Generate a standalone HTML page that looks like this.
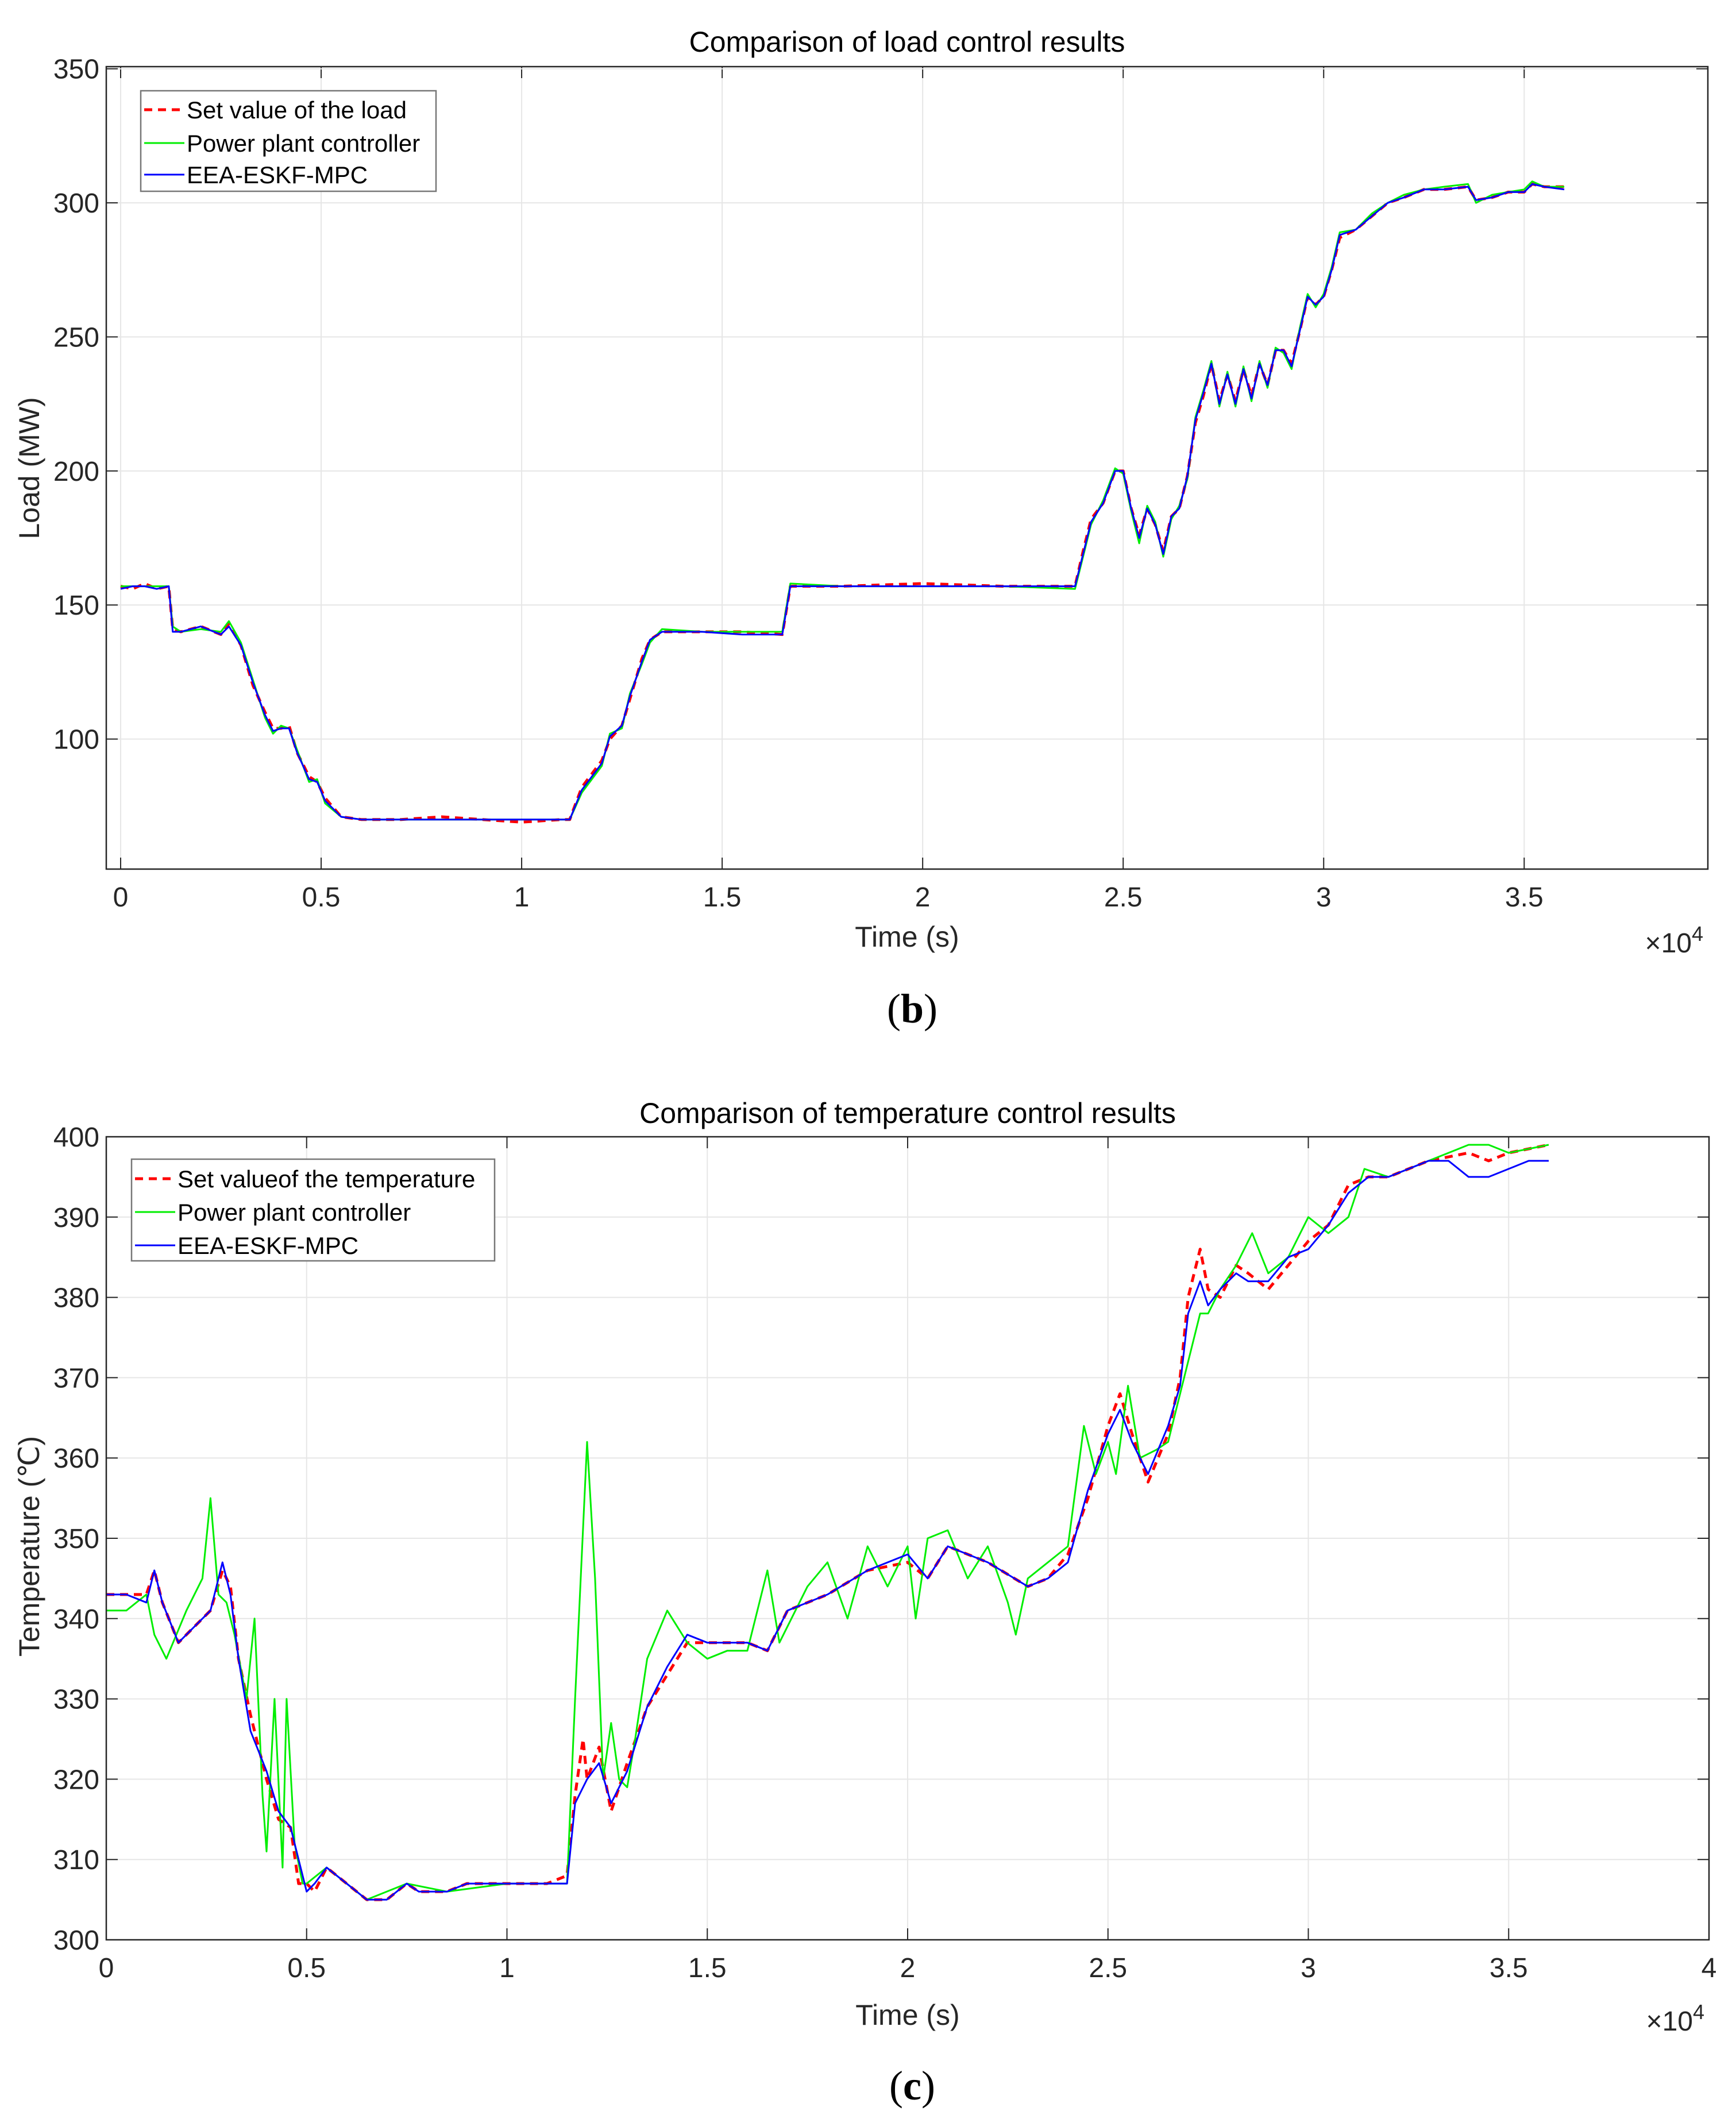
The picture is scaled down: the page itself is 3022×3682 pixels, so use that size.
<!DOCTYPE html>
<html><head><meta charset="utf-8">
<style>
html,body{margin:0;padding:0;background:#fff;}
svg{display:block;font-family:"Liberation Sans",Arial,sans-serif;}
</style></head>
<body>
<svg id="fig" width="3022" height="3682" viewBox="0 0 3022 3682" xmlns="http://www.w3.org/2000/svg">
<rect width="3022" height="3682" fill="#fff"/>
<g id="chartB"></g>
<g id="chartC"></g>
</svg>
<script>
// ---------- Load chart data (time in 1e4 s, load in MW) ----------
const loadSetT = [0,0.03,0.06,0.09,0.12,0.13,0.15,0.2,0.25,0.27,0.3,0.33,0.36,0.38,0.4,0.42,0.44,0.47,0.49,0.51,0.55,0.6,0.7,0.8,0.9,1.0,1.1,1.12,1.15,1.2,1.22,1.25,1.27,1.3,1.32,1.35,1.45,1.55,1.65,1.67,1.8,2.0,2.2,2.38,2.4,2.42,2.45,2.48,2.5,2.52,2.54,2.56,2.58,2.6,2.62,2.64,2.66,2.68,2.7,2.72,2.74,2.76,2.78,2.8,2.82,2.84,2.86,2.88,2.9,2.92,2.94,2.96,2.98,3.0,3.02,3.04,3.08,3.12,3.16,3.2,3.25,3.3,3.36,3.38,3.42,3.46,3.5,3.52,3.55,3.6];
const loadSetV = [157,156,158,156,157,141,140,142,139,143,135,120,110,104,104,105,95,86,84,78,71,70,70,71,70,69,70,70,82,92,100,105,115,130,137,140,140,140,139,157,157,158,157,157,170,182,188,200,200,186,176,186,180,170,183,186,198,218,228,240,226,236,226,238,228,240,232,245,245,240,252,265,262,265,275,287,290,295,300,302,305,305,306,301,302,304,304,307,306,306];
const loadPpcV = [157,157,157,157,157,142,140,141,140,144,136,122,108,102,105,104,96,84,85,76,71,70,70,70,70,70,70,70,80,90,102,104,117,128,136,141,140,140,140,158,157,157,157,156,168,180,189,201,199,185,173,187,181,168,182,187,197,220,230,241,224,237,224,239,226,241,231,246,244,238,253,266,261,266,276,289,290,296,300,303,305,306,307,300,303,304,305,308,306,306];
const loadMpcV = [156,157,157,156,157,140,140,142,139,142,135,121,109,103,104,104,95,85,84,77,71,70,70,70,70,70,70,70,81,91,101,105,116,129,137,140,140,139,139,157,157,157,157,157,169,181,188,200,200,186,175,186,180,169,183,186,198,219,229,240,225,236,225,238,227,240,232,245,245,239,252,265,262,265,275,288,290,295,300,302,305,305,306,301,302,304,304,307,306,305];
const loadXTicks = [0,0.5,1,1.5,2,2.5,3,3.5];
const loadXTickLabels = ["0","0.5","1","1.5","2","2.5","3","3.5"];
const loadYTicks = [100,150,200,250,300,350];
const loadYTickLabels = ["100","150","200","250","300","350"];

// ---------- Temperature chart data ----------
const tempSetT = [0,0.05,0.1,0.12,0.14,0.18,0.22,0.26,0.29,0.31,0.33,0.36,0.4,0.43,0.46,0.48,0.5,0.52,0.55,0.6,0.65,0.7,0.75,0.78,0.85,0.9,0.95,1.1,1.15,1.17,1.19,1.2,1.23,1.26,1.3,1.35,1.4,1.45,1.5,1.6,1.65,1.7,1.8,1.9,2.0,2.05,2.1,2.2,2.3,2.35,2.4,2.45,2.5,2.53,2.56,2.6,2.65,2.68,2.7,2.73,2.75,2.78,2.82,2.85,2.9,2.95,3.0,3.05,3.1,3.15,3.2,3.3,3.4,3.45,3.5,3.6];
const tempSetV = [343,343,343,346,342,337,339,341,346,344,335,328,320,315,314,307,307,306,309,307,305,305,307,306,306,307,307,307,308,318,325,320,324,316,322,329,333,337,337,337,336,341,343,346,347,345,349,347,344,345,348,355,364,368,363,357,363,370,380,386,381,380,384,383,381,384,387,389,394,395,395,397,398,397,398,399];
const tempPpcT = [0,0.05,0.1,0.12,0.15,0.2,0.24,0.26,0.28,0.3,0.32,0.35,0.37,0.39,0.4,0.42,0.44,0.45,0.47,0.49,0.5,0.55,0.65,0.75,0.85,1.0,1.15,1.17,1.2,1.22,1.24,1.26,1.28,1.3,1.32,1.35,1.4,1.45,1.5,1.55,1.6,1.65,1.68,1.75,1.8,1.85,1.9,1.95,2.0,2.02,2.05,2.1,2.15,2.2,2.25,2.27,2.3,2.4,2.44,2.47,2.5,2.52,2.55,2.58,2.62,2.65,2.7,2.73,2.75,2.78,2.82,2.86,2.9,2.95,3.0,3.05,3.1,3.14,3.2,3.3,3.4,3.45,3.5,3.6];
const tempPpcV = [341,341,343,338,335,341,345,355,343,342,338,330,340,318,311,330,309,330,312,307,307,309,305,307,306,307,307,330,362,345,320,327,320,319,325,335,341,337,335,336,336,346,337,344,347,340,349,344,349,340,350,351,345,349,342,338,345,349,364,358,362,358,369,360,361,362,372,378,378,381,384,388,383,385,390,388,390,396,395,397,399,399,398,399];
const tempMpcT = [0,0.05,0.1,0.12,0.14,0.18,0.22,0.26,0.29,0.31,0.33,0.36,0.4,0.43,0.46,0.48,0.5,0.52,0.55,0.6,0.65,0.7,0.75,0.78,0.85,0.9,0.95,1.1,1.15,1.17,1.2,1.23,1.26,1.3,1.35,1.4,1.45,1.5,1.6,1.65,1.7,1.8,1.9,2.0,2.05,2.1,2.2,2.3,2.35,2.4,2.45,2.5,2.53,2.56,2.6,2.65,2.68,2.7,2.73,2.75,2.78,2.82,2.85,2.9,2.95,3.0,3.05,3.1,3.15,3.2,3.3,3.35,3.4,3.45,3.5,3.55,3.6];
const tempMpcV = [343,343,342,346,342,337,339,341,347,343,335,326,321,316,314,310,306,307,309,307,305,305,307,306,306,307,307,307,307,317,320,322,317,321,329,334,338,337,337,336,341,343,346,348,345,349,347,344,345,347,356,363,366,362,358,364,369,378,382,379,381,383,382,382,385,386,389,393,395,395,397,397,395,395,396,397,397];
const tempXTicks = [0,0.5,1,1.5,2,2.5,3,3.5,4];
const tempXTickLabels = ["0","0.5","1","1.5","2","2.5","3","3.5","4"];
const tempYTicks = [300,310,320,330,340,350,360,370,380,390,400];
const tempYTickLabels = ["300","310","320","330","340","350","360","370","380","390","400"];

const NS = "http://www.w3.org/2000/svg";
function mk(parent, tag, attrs, text){
  const e = document.createElementNS(NS, tag);
  for (const k in attrs) e.setAttribute(k, attrs[k]);
  if (text !== undefined) e.textContent = text;
  parent.appendChild(e);
  return e;
}

function drawChart(g, cfg){
  const L=cfg.left,R=cfg.right,T=cfg.top,B=cfg.bottom;
  const sx = v => L + (v - cfg.xmin)/(cfg.xmax - cfg.xmin)*(R-L);
  const sy = v => B - (v - cfg.ymin)/(cfg.ymax - cfg.ymin)*(B-T);
  cfg.xticks.forEach((v,i)=>{
    const x=sx(v);
    const gl=mk(g,'line',{x1:x,x2:x,y1:T,y2:B,stroke:'#e6e6e6','stroke-width':2});
    
    
    mk(g,'line',{x1:x,x2:x,y1:B,y2:B-20,stroke:'#262626','stroke-width':2});
    mk(g,'line',{x1:x,x2:x,y1:T,y2:T+20,stroke:'#262626','stroke-width':2});
    const t=mk(g,'text',{x:x,y:cfg.xlabY,'font-size':48,'text-anchor':'middle',fill:'#262626'},cfg.xlabels[i]);
    
    
  });
  cfg.yticks.forEach((v,i)=>{
    const y=sy(v);
    const gl=mk(g,'line',{x1:L,x2:R,y1:y,y2:y,stroke:'#e6e6e6','stroke-width':2});
    
    
    mk(g,'line',{x1:L,x2:L+20,y1:y,y2:y,stroke:'#262626','stroke-width':2});
    mk(g,'line',{x1:R,x2:R-20,y1:y,y2:y,stroke:'#262626','stroke-width':2});
    const t=mk(g,'text',{x:L-12,y:y+17,'font-size':48,'text-anchor':'end',fill:'#262626'},cfg.ylabels[i]);
    
    
  });
  cfg.series.forEach(s=>{
    const d = s.t.map((tv,i)=>(i?'L':'M')+sx(tv).toFixed(1)+','+sy(s.v[i]).toFixed(1)).join(' ');
    const p=mk(g,'path',{d:d,fill:'none',stroke:s.color,'stroke-width':s.w,'stroke-dasharray':s.dash||'none','stroke-linejoin':'round'});
    
    
  });
  const box=mk(g,'rect',{x:L,y:T,width:R-L,height:B-T,fill:'none',stroke:'#262626','stroke-width':2.5});
  
  
  const ti=mk(g,'text',{x:(L+R)/2,y:cfg.titleY,'font-size':50,'text-anchor':'middle',fill:'#000'},cfg.title);
  
  
  const xl=mk(g,'text',{x:(L+R)/2,y:cfg.xTitleY,'font-size':50,'text-anchor':'middle',fill:'#262626'},'Time (s)');
  
  
  const yl=mk(g,'text',{x:0,y:0,'font-size':50,'text-anchor':'middle',fill:'#262626',transform:'translate('+cfg.yTitleX+','+cfg.yTitleY+') rotate(-90)'},cfg.ytitle);
  
  
  const ex=mk(g,'text',{x:R-8,y:cfg.expY,'font-size':48,'text-anchor':'end',fill:'#262626'});
  
  
  mk(ex,'tspan',{},'\u00d710');
  mk(ex,'tspan',{dy:-20,'font-size':36},'4');
  const lg=mk(g,'g',{});
  
  
  mk(lg,'rect',{x:cfg.leg.x,y:cfg.leg.y,width:cfg.leg.w,height:cfg.leg.h,fill:'#fff',stroke:'#777','stroke-width':2.5});
  cfg.series.forEach((s,i)=>{
    const yy=cfg.leg.rows[i];
    const e=mk(lg,'g',{});
    
    
    mk(e,'line',{x1:cfg.leg.x+6,x2:cfg.leg.x+76,y1:yy,y2:yy,stroke:s.color,'stroke-width':s.w,'stroke-dasharray':s.dash||'none'});
    mk(e,'text',{x:cfg.leg.x+80,y:yy+15,'font-size':42,fill:'#000'},s.label);
  });
  const cap=mk(g,'text',{x:1588,y:cfg.capY,'font-size':72,'text-anchor':'middle',fill:'#000','font-family':'"Liberation Serif",serif'});
  
  
  mk(cap,'tspan',{},'(');
  mk(cap,'tspan',{'font-weight':'bold'},cfg.cap);
  mk(cap,'tspan',{},')');
}

drawChart(document.getElementById('chartB'),{
  left:185,right:2973,top:116,bottom:1513,
  xmin:-0.0358,xmax:3.958,ymin:51.5,ymax:350.8,
  xticks:loadXTicks,xlabels:loadXTickLabels,yticks:loadYTicks,ylabels:loadYTickLabels,
  xlabY:1578,titleY:90,xTitleY:1648,yTitleX:68,yTitleY:815,expY:1658,
  title:'Comparison of load control results',ytitle:'Load (MW)',
  leg:{x:245,y:158,w:514,h:175,rows:[191,249,304]},
  capY:1780,cap:'b',
  series:[
    {name:'set-load-line',label:'Set value of the load',t:loadSetT,v:loadSetV,color:'#ff0000',w:5,dash:'14 10'},
    {name:'power-plant-controller-line',label:'Power plant controller',t:loadSetT,v:loadPpcV,color:'#00ee00',w:3},
    {name:'eea-eskf-mpc-line',label:'EEA-ESKF-MPC',t:loadSetT,v:loadMpcV,color:'#0000ff',w:3}
  ]
});
drawChart(document.getElementById('chartC'),{
  left:185,right:2975,top:1979,bottom:3377,
  xmin:0,xmax:4,ymin:300,ymax:400,
  xticks:tempXTicks,xlabels:tempXTickLabels,yticks:tempYTicks,ylabels:tempYTickLabels,
  xlabY:3442,titleY:1955,xTitleY:3525,yTitleX:68,yTitleY:2692,expY:3535,
  title:'Comparison of temperature control results',ytitle:'Temperature (\u2103)',
  leg:{x:229,y:2018,w:632,h:177,rows:[2052,2110,2168]},
  capY:3655,cap:'c',
  series:[
    {name:'set-temperature-line',label:'Set valueof the temperature',t:tempSetT,v:tempSetV,color:'#ff0000',w:5,dash:'14 10'},
    {name:'power-plant-controller-line',label:'Power plant controller',t:tempPpcT,v:tempPpcV,color:'#00ee00',w:3},
    {name:'eea-eskf-mpc-line',label:'EEA-ESKF-MPC',t:tempMpcT,v:tempMpcV,color:'#0000ff',w:3}
  ]
});
</script>
</body></html>
